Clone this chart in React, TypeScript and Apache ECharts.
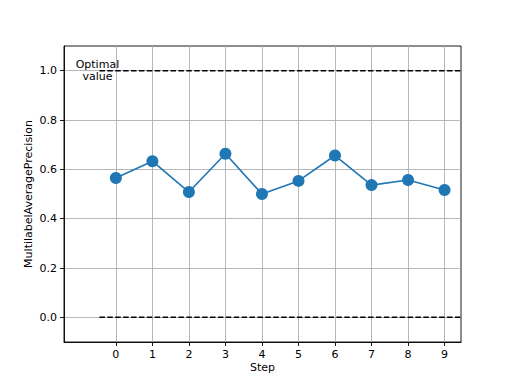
import React, { useEffect, useRef } from "react";
import * as echarts from "echarts";

const steps = [0, 1, 2, 3, 4, 5, 6, 7, 8, 9];
const precision = [0.565, 0.633, 0.508, 0.663, 0.5, 0.553, 0.656, 0.536, 0.557, 0.516];
const xTicks = [0, 1, 2, 3, 4, 5, 6, 7, 8, 9];
const yTicks = [0, 0.2, 0.4, 0.6, 0.8, 1.0];
const optimalValues = [0, 1];
const lineStart = -0.45;
const lineEnd = 9.45;
const annotation = "Optimal\nvalue";

const FONT = "DejaVu Sans";

export default function App() {
  const ref = useRef<HTMLDivElement>(null);
  useEffect(() => {
    document.body.style.margin = "0";
    const chart = echarts.init(ref.current!, null, { renderer: "svg" });
    const dashed = optimalValues.map((v, i) => ({
      type: "line",
      data: [
        [lineStart, v],
        [lineEnd, v],
      ],
      symbol: "none",
      silent: true,
      z: 3,
      lineStyle: { color: "#000", width: 1.5, type: [5.5, 2.4] },
      markPoint:
        i === 1
          ? {
              symbol: "circle",
              symbolSize: 0,
              silent: true,
              data: [
                {
                  coord: [lineStart, v],
                  label: {
                    show: true,
                    formatter: annotation,
                    position: "inside",
                    color: "#000",
                    fontSize: 11,
                    fontFamily: FONT,
                    align: "center",
                    verticalAlign: "middle",
                    lineHeight: 12,
                    offset: [-2, 0],
                  },
                },
              ],
            }
          : undefined,
    }));
    const axisCommon = {
      axisLine: { show: true, onZero: false, lineStyle: { color: "#000", width: 0.9 } },
      splitLine: { show: true, lineStyle: { color: "#b0b0b0", width: 0.9 } },
      nameMoveOverlap: false,
    };
    chart.setOption({
      animation: false,
      backgroundColor: "#fff",
      grid: {
        left: 64,
        right: 51,
        top: 46,
        bottom: 42,
        show: true,
        borderColor: "#000",
        borderWidth: 0.9,
      },
      xAxis: {
        type: "value",
        min: -1.42,
        max: 9.45,
        name: "Step",
        nameLocation: "middle",
        nameGap: 20,
        nameTextStyle: { color: "#000", fontSize: 11, fontFamily: FONT },
        ...axisCommon,
        axisTick: {
          show: true,
          inside: false,
          customValues: xTicks,
          length: 4,
          lineStyle: { color: "#000", width: 0.9 },
        },
        axisLabel: {
          customValues: xTicks,
          color: "#000",
          fontSize: 11,
          fontFamily: FONT,
          margin: 7,
        },
      },
      yAxis: {
        type: "value",
        min: -0.1,
        max: 1.1,
        name: "MultilabelAveragePrecision",
        nameLocation: "middle",
        nameGap: 30,
        nameTextStyle: { color: "#000", fontSize: 11, fontFamily: FONT },
        ...axisCommon,
        axisTick: {
          show: true,
          inside: false,
          customValues: yTicks,
          length: 4,
          lineStyle: { color: "#000", width: 0.9 },
        },
        axisLabel: {
          customValues: yTicks,
          formatter: (v: number) => v.toFixed(1),
          color: "#000",
          fontSize: 11,
          fontFamily: FONT,
          margin: 7,
        },
      },
      series: [
        ...dashed,
        {
          type: "line",
          data: steps.map((s, i) => [s, precision[i]]),
          symbol: "circle",
          symbolSize: 12,
          z: 4,
          itemStyle: { color: "#1f77b4" },
          lineStyle: { color: "#1f77b4", width: 1.6 },
        },
      ],
    });
    return () => chart.dispose();
  }, []);
  return <div ref={ref} style={{ width: 512, height: 384, position: "absolute", left: 0, top: 0 }} />;
}
